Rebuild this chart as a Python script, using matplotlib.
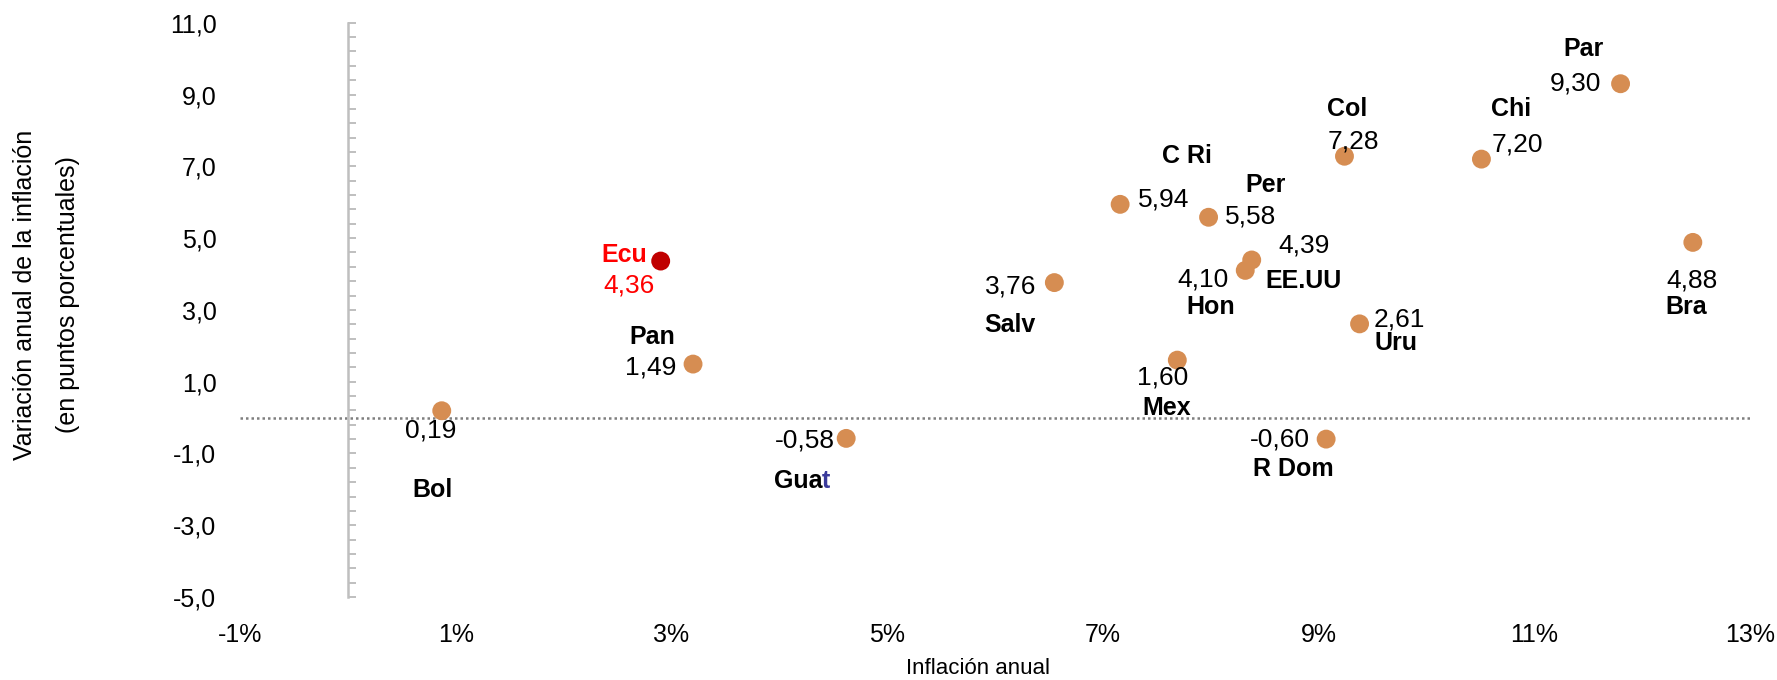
import matplotlib
matplotlib.use("Agg")
import matplotlib.pyplot as plt
from matplotlib.ticker import FixedLocator, MultipleLocator, FuncFormatter

# Data
paises = ["Bol", "Ecu", "Pan", "Guat", "Salv", "C Ri", "Mex", "Per",
          "Hon", "EE.UU", "R Dom", "Col", "Uru", "Chi", "Par", "Bra"]
inflacion = [0.87, 2.90, 3.20, 4.62, 6.55, 7.16, 7.69, 7.98,
             8.32, 8.38, 9.07, 9.24, 9.38, 10.51, 11.80, 12.47]
variacion = [0.19, 4.36, 1.49, -0.58, 3.76, 5.94, 1.60, 5.58,
             4.10, 4.39, -0.60, 7.28, 2.61, 7.20, 9.30, 4.88]
xticks = [-1, 1, 3, 5, 7, 9, 11, 13]
yticks = [-5, -3, -1, 1, 3, 5, 7, 9, 11]

# label offsets in pixels (dx, dy down) : value label, name label
off_val = {"Bol": (-11, 20), "Ecu": (-32, 24), "Pan": (-42, 3), "Guat": (-41, 2),
           "Salv": (-44, 4), "C Ri": (44, -5), "Mex": (-15, 17), "Per": (42, -1),
           "Hon": (-42, 9), "EE.UU": (52, -14), "R Dom": (-46, 0), "Col": (9, -15),
           "Uru": (40, -4), "Chi": (36, -15), "Par": (-45, 0), "Bra": (-1, 38)}
off_name = {"Bol": (-9, 79), "Ecu": (-36, -6), "Pan": (-41, -27), "Guat": (-41, 43),
            "Salv": (-44, 42), "C Ri": (67, -48), "Mex": (-11, 48), "Per": (57, -32),
            "Hon": (-35, 37), "EE.UU": (52, 21), "R Dom": (-33, 30), "Col": (3, -47),
            "Uru": (36, 19), "Chi": (30, -50), "Par": (-37, -35), "Bra": (-7, 65)}

naranja = "#D68D52"
rojo_pt = "#C00000"
FAM = ["Liberation Sans", "DejaVu Sans"]
px = 0.72  # pixels -> points at dpi 100

fig = plt.figure(figsize=(17.77, 6.8), dpi=100)
ax = fig.add_axes([0.1351, 0.122, 0.8497, 0.8446])
ax.set_xlim(-1, 13)
ax.set_ylim(-5, 11)

colores = [rojo_pt if p == "Ecu" else naranja for p in paises]
ax.scatter(inflacion, variacion, s=185, c=colores, edgecolors="none", zorder=3)

# horizontal reference line (dotted)
ax.axhline(0, color="#7F7F7F", lw=1.8, ls=(0, (1, 1.2)), zorder=1)

# vertical axis at x = 0 with inner ticks
for s in ["top", "right", "bottom"]:
    ax.spines[s].set_visible(False)
ax.spines["left"].set_position(("data", 0))
ax.spines["left"].set_color("#BFBFBF")
ax.spines["left"].set_linewidth(1.8)
ax.yaxis.set_major_locator(FixedLocator(yticks))
ax.yaxis.set_minor_locator(MultipleLocator(0.4, offset=0.2))
ax.tick_params(axis="y", which="both", direction="in", length=6, width=1.4,
               color="#BFBFBF", labelleft=False)

# y tick labels at the left of the plot
sec = ax.secondary_yaxis("left")
sec.set_yticks(yticks)
sec.yaxis.set_major_formatter(FuncFormatter(lambda v, p: f"{v:.1f}".replace(".", ",")))
sec.spines["left"].set_visible(False)
sec.tick_params(length=0, pad=17, labelsize=18)
for t in sec.get_yticklabels():
    t.set_fontfamily(FAM)

ax.set_xticks(xticks)
ax.set_xticklabels([f"{v}%" for v in xticks], fontfamily=FAM, fontsize=18)
ax.tick_params(axis="x", length=0, pad=19)

# data labels
for p, x, y in zip(paises, inflacion, variacion):
    col = "#FF0000" if p == "Ecu" else "black"
    dx, dy = off_val[p]
    ax.annotate(f"{y:.2f}".replace(".", ","), (x, y), xytext=(dx * px, -dy * px),
                textcoords="offset points", ha="center", va="center",
                fontsize=19, color=col, fontfamily=FAM, zorder=4)
    dx, dy = off_name[p]
    if p == "Guat":
        ax.annotate("Gua", (x, y), xytext=((dx + 17) * px, -dy * px),
                    textcoords="offset points", ha="right", va="center",
                    fontsize=18, fontweight="bold", color="black", fontfamily=FAM)
        ax.annotate("t", (x, y), xytext=((dx + 17) * px, -dy * px),
                    textcoords="offset points", ha="left", va="center",
                    fontsize=18, fontweight="bold", color="#3B3B9B", fontfamily=FAM)
    else:
        ax.annotate(p, (x, y), xytext=(dx * px, -dy * px),
                    textcoords="offset points", ha="center", va="center",
                    fontsize=18, fontweight="bold", color=col, fontfamily=FAM, zorder=4)

# axis titles
fig.text(0.0141, 0.566, "Variación anual de la inflación", rotation=90,
         ha="center", va="center", fontsize=18, fontfamily=FAM)
fig.text(0.0383, 0.567, "(en puntos porcentuales)", rotation=90,
         ha="center", va="center", fontsize=18, fontfamily=FAM)
fig.text(0.5504, 0.0176, "Inflación anual", ha="center", va="center",
         fontsize=16, fontfamily=FAM)

fig.savefig("out.png", dpi=100)
